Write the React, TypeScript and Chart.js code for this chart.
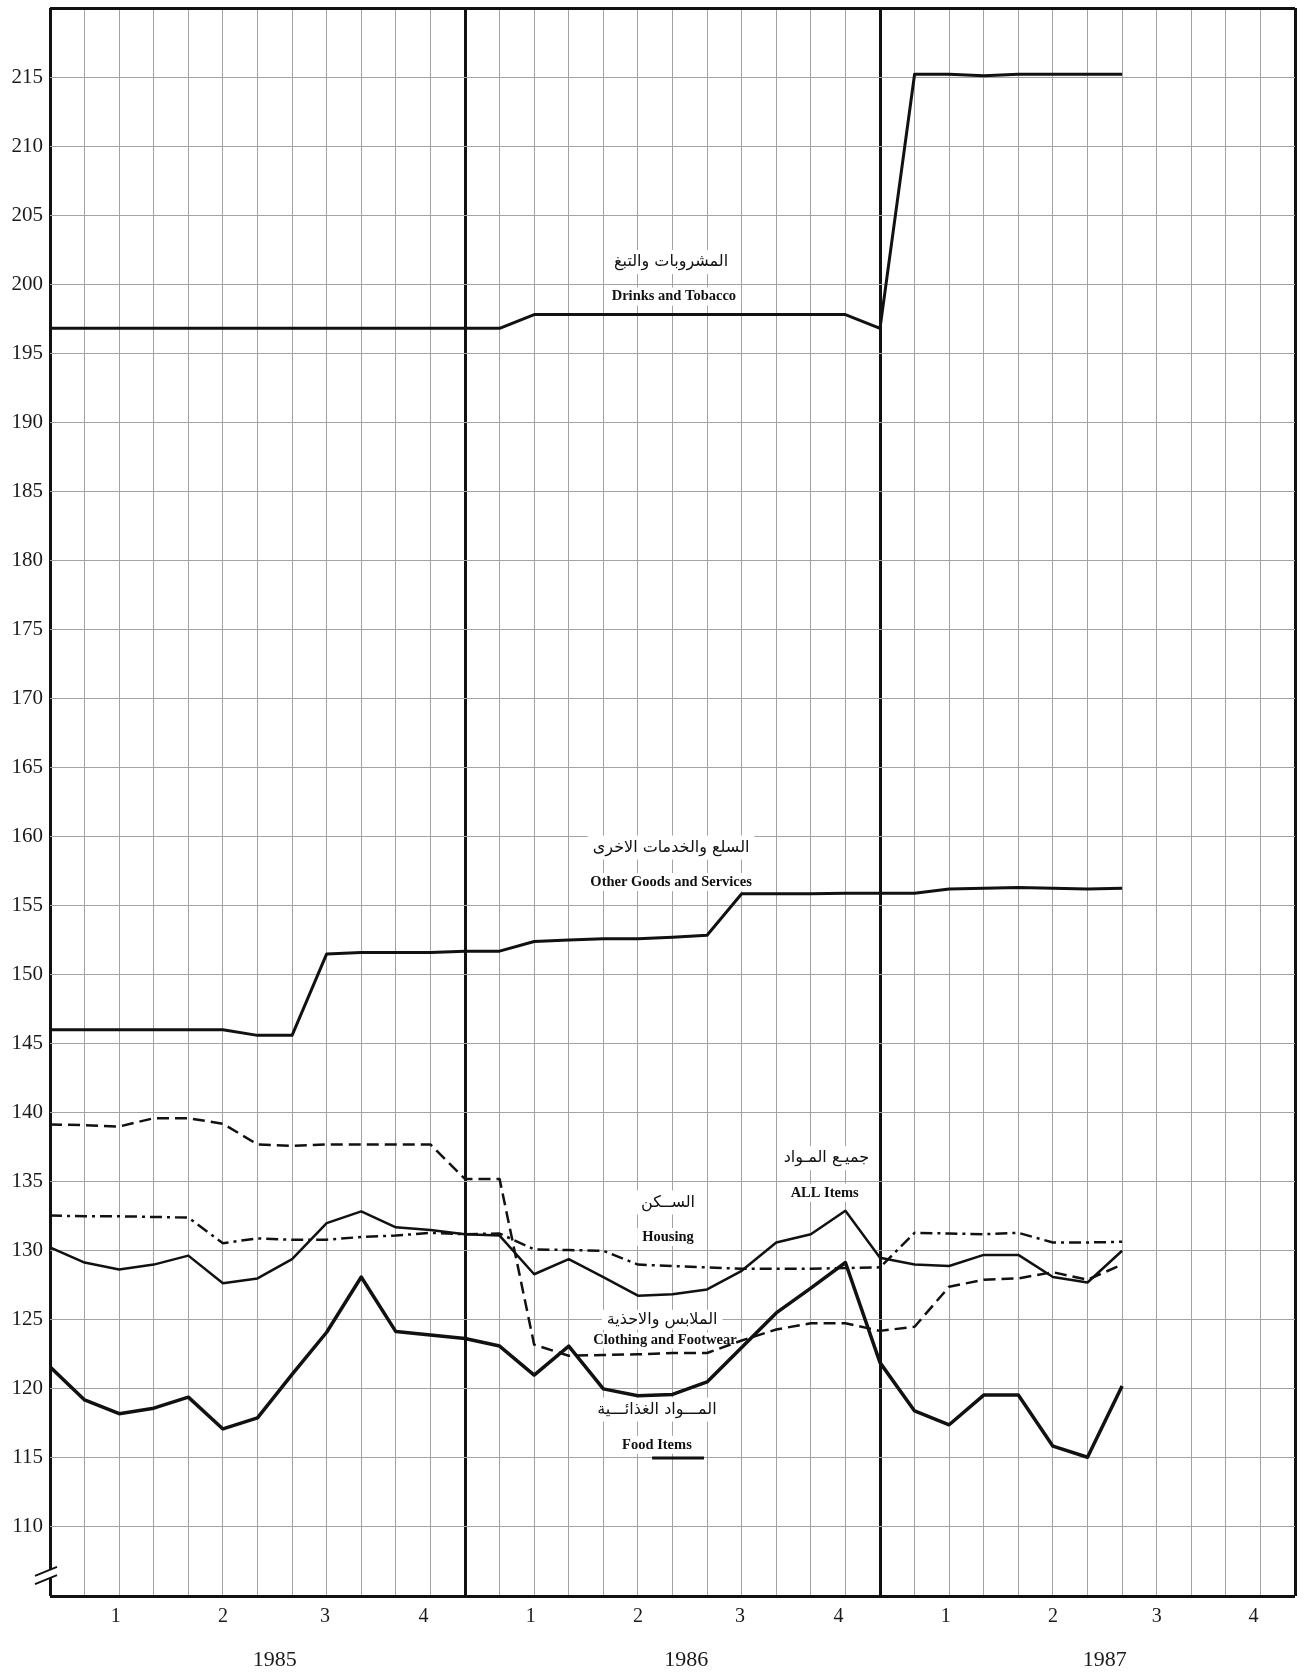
import React, { useEffect, useRef } from 'react';
import { Chart, registerables } from 'chart.js';

Chart.register(...registerables);

// Month positions (0 = first month of 1985 grid line)
const MONTHS = [0, 1, 2, 3, 4, 5, 6, 7, 8, 9, 10, 11, 12, 13, 14, 15, 16, 17, 18, 19, 20, 21, 22, 23, 24, 25, 26, 27, 28, 29, 30, 31];
const GRID_MONTHS = [0, 1, 2, 3, 4, 5, 6, 7, 8, 9, 10, 11, 12, 13, 14, 15, 16, 17, 18, 19, 20, 21, 22, 23, 24, 25, 26, 27, 28, 29, 30, 31, 32, 33, 34, 35, 36];
const YEAR_BOUNDARIES = [0, 12, 24, 36];
const Y_TICKS = [105, 110, 115, 120, 125, 130, 135, 140, 145, 150, 155, 160, 165, 170, 175, 180, 185, 190, 195, 200, 205, 210, 215, 220];
const Y_BOUNDS = [105, 220];

const QUARTER_POS = [1.9, 5.0, 7.95, 10.8, 13.9, 17.0, 19.95, 22.8, 25.9, 29.0, 32.0, 34.8];
const QUARTER_LABELS = ['1', '2', '3', '4', '1', '2', '3', '4', '1', '2', '3', '4'];
const YEAR_POS = [6.5, 18.4, 30.5];
const YEAR_LABELS = ['1985', '1986', '1987'];

const DRINKS = [196.8, 196.8, 196.8, 196.8, 196.8, 196.8, 196.8, 196.8, 196.8, 196.8, 196.8, 196.8, 196.8, 196.8, 197.8, 197.8, 197.8, 197.8, 197.8, 197.8, 197.8, 197.8, 197.8, 197.8, 196.8, 215.2, 215.2, 215.1, 215.2, 215.2, 215.2, 215.2];
const OTHER = [146.0, 146.0, 146.0, 146.0, 146.0, 146.0, 145.6, 145.6, 151.5, 151.6, 151.6, 151.6, 151.7, 151.7, 152.4, 152.5, 152.6, 152.6, 152.7, 152.85, 155.85, 155.85, 155.85, 155.9, 155.9, 155.9, 156.2, 156.25, 156.3, 156.25, 156.2, 156.25];
const CLOTHING = [139.15, 139.1, 139.0, 139.6, 139.6, 139.2, 137.7, 137.6, 137.7, 137.7, 137.7, 137.7, 135.2, 135.2, 123.2, 122.4, 122.45, 122.5, 122.6, 122.6, 123.5, 124.3, 124.75, 124.75, 124.2, 124.5, 127.4, 127.9, 128.0, 128.45, 127.9, 129.0];
const HOUSING = [132.55, 132.5, 132.5, 132.45, 132.4, 130.55, 130.9, 130.8, 130.8, 131.0, 131.1, 131.3, 131.2, 131.25, 130.1, 130.05, 130.0, 129.0, 128.9, 128.8, 128.7, 128.7, 128.7, 128.75, 128.8, 131.3, 131.25, 131.2, 131.3, 130.6, 130.6, 130.65];
const ALL_ITEMS = [130.25, 129.15, 128.65, 129.0, 129.65, 127.65, 128.0, 129.4, 132.0, 132.85, 131.7, 131.5, 131.2, 131.1, 128.3, 129.4, 128.1, 126.75, 126.85, 127.2, 128.55, 130.6, 131.2, 132.9, 129.5, 129.0, 128.9, 129.7, 129.7, 128.1, 127.7, 130.0];
const FOOD = [121.6, 119.2, 118.2, 118.6, 119.4, 117.1, 117.9, 121.05, 124.1, 128.1, 124.15, 123.9, 123.65, 123.1, 121.0, 123.1, 120.0, 119.5, 119.6, 120.5, 123.0, 125.5, 127.3, 129.15, 121.9, 118.4, 117.4, 119.55, 119.55, 115.85, 115.05, 120.2];

const AR_FONT = '16px "DejaVu Sans", sans-serif';
const EN_FONT = 'bold 14.5px "Liberation Serif", serif';

const ANNOTATIONS = [
  { text: 'المشروبات والتبغ', x: 17.96, y: 201.6, font: AR_FONT, h: 24 },
  { text: 'Drinks and Tobacco', x: 18.04, y: 199.1, font: EN_FONT, h: 18 },
  { text: 'السلع والخدمات الاخرى', x: 17.96, y: 159.2, font: AR_FONT, h: 24 },
  { text: 'Other Goods and Services', x: 17.96, y: 156.7, font: EN_FONT, h: 18 },
  { text: 'الســكن', x: 17.87, y: 133.5, font: AR_FONT, h: 24 },
  { text: 'Housing', x: 17.87, y: 131.0, font: EN_FONT, h: 18 },
  { text: 'جميـع المـواد', x: 22.45, y: 136.7, font: AR_FONT, h: 24 },
  { text: 'ALL Items', x: 22.4, y: 134.2, font: EN_FONT, h: 18 },
  { text: 'الملابس والاحذية', x: 17.7, y: 125.0, font: AR_FONT, h: 20 },
  { text: 'Clothing and Footwear', x: 17.78, y: 123.5, font: EN_FONT, h: 16 },
  { text: 'المـــواد الغذائـــية', x: 17.55, y: 118.5, font: AR_FONT, h: 24 },
  { text: 'Food Items', x: 17.55, y: 115.95, font: EN_FONT, h: 18 },
];
const FOOD_KEY = { x1: 17.41, x2: 18.91, y: 115.0 };
const BREAK_VALUES = [106.75, 106.15];

const labelPlugin = {
  id: 'seriesLabels',
  beforeDatasetsDraw(chart: any) {
    const { ctx } = chart;
    const xs = chart.scales.x;
    const ys = chart.scales.y;
    ctx.save();
    ctx.textAlign = 'center';
    ctx.textBaseline = 'middle';
    for (const a of ANNOTATIONS) {
      const px = xs.getPixelForValue(a.x);
      const py = ys.getPixelForValue(a.y);
      ctx.font = a.font;
      const w = ctx.measureText(a.text).width;
      ctx.fillStyle = '#ffffff';
      ctx.fillRect(px - w / 2 - 5, py - a.h / 2, w + 10, a.h);
    }
    for (const a of ANNOTATIONS) {
      const px = xs.getPixelForValue(a.x);
      const py = ys.getPixelForValue(a.y);
      ctx.font = a.font;
      ctx.fillStyle = '#111111';
      ctx.fillText(a.text, px, py);
    }
    ctx.strokeStyle = '#111111';
    ctx.lineWidth = 3;
    ctx.beginPath();
    ctx.moveTo(xs.getPixelForValue(FOOD_KEY.x1), ys.getPixelForValue(FOOD_KEY.y));
    ctx.lineTo(xs.getPixelForValue(FOOD_KEY.x2), ys.getPixelForValue(FOOD_KEY.y));
    ctx.stroke();
    ctx.restore();
  },
  afterDraw(chart: any) {
    const { ctx, chartArea } = chart;
    const ys = chart.scales.y;
    const l = chartArea.left;
    const y1 = ys.getPixelForValue(BREAK_VALUES[0]);
    const y2 = ys.getPixelForValue(BREAK_VALUES[1]);
    ctx.save();
    ctx.fillStyle = '#ffffff';
    ctx.beginPath();
    ctx.moveTo(l - 15, y1 + 4);
    ctx.lineTo(l + 7, y1 - 5);
    ctx.lineTo(l + 7, y2 - 5);
    ctx.lineTo(l - 15, y2 + 4);
    ctx.closePath();
    ctx.fill();
    ctx.strokeStyle = '#111111';
    ctx.lineWidth = 2;
    ctx.beginPath();
    ctx.moveTo(l - 15, y1 + 4);
    ctx.lineTo(l + 7, y1 - 5);
    ctx.moveTo(l - 15, y2 + 4);
    ctx.lineTo(l + 7, y2 - 5);
    ctx.stroke();
    ctx.restore();
  },
};

export default function App() {
  const ref = useRef<HTMLCanvasElement | null>(null);

  useEffect(() => {
    document.body.style.margin = '0';
    const canvas = ref.current;
    if (!canvas) return;
    const line = (label: string, data: number[], width: number, dash: number[]) => ({
      label,
      data,
      borderColor: '#111111',
      backgroundColor: '#111111',
      borderWidth: width,
      borderDash: dash,
      borderJoinStyle: 'round' as const,
      borderCapStyle: 'butt' as const,
      pointRadius: 0,
      tension: 0,
      fill: false,
      xAxisID: 'x',
      yAxisID: 'y',
    });

    const chart = new Chart(canvas, {
      type: 'line',
      data: {
        labels: MONTHS,
        datasets: [
          line('Drinks and Tobacco', DRINKS, 3, []),
          line('Other Goods and Services', OTHER, 3, []),
          line('Clothing and Footwear', CLOTHING, 2.5, [12, 6]),
          line('Housing', HOUSING, 2.5, [12, 5, 3, 5]),
          line('ALL Items', ALL_ITEMS, 2.5, []),
          line('Food Items', FOOD, 3.5, []),
        ],
      },
      options: {
        responsive: false,
        animation: false,
        devicePixelRatio: 1,
        layout: { padding: { top: 8, right: 11, left: 0, bottom: 0 } },
        plugins: {
          legend: { display: false },
          tooltip: { enabled: false },
        },
        scales: {
          x: {
            type: 'linear',
            position: 'bottom',
            min: 0,
            max: 36,
            weight: 0,
            afterBuildTicks: (s: any) => {
              s.ticks = GRID_MONTHS.map((v) => ({ value: v }));
            },
            afterFit: (s: any) => {
              s.height = 0;
              s.paddingLeft = 0;
              s.paddingRight = 0;
            },
            ticks: { display: false, autoSkip: false },
            border: { display: false },
            grid: {
              drawTicks: false,
              color: (c: any) => (c.tick && YEAR_BOUNDARIES.includes(c.tick.value) ? '#111111' : '#a3a3a3'),
              lineWidth: (c: any) => (c.tick && YEAR_BOUNDARIES.includes(c.tick.value) ? 3 : 1),
            },
          },
          xq: {
            type: 'linear',
            position: 'bottom',
            min: 0,
            max: 36,
            weight: 1,
            afterBuildTicks: (s: any) => {
              s.ticks = QUARTER_POS.map((v) => ({ value: v }));
            },
            afterFit: (s: any) => {
              s.height = 44;
              s.paddingLeft = 0;
              s.paddingRight = 0;
            },
            ticks: {
              autoSkip: false,
              maxRotation: 0,
              padding: 9,
              color: '#1a1a1a',
              font: { family: '"Liberation Serif", serif', size: 20 },
              callback: (v: any) => {
                const i = QUARTER_POS.indexOf(Number(v));
                return i >= 0 ? QUARTER_LABELS[i] : '';
              },
            },
            border: { display: false },
            grid: { display: false, drawTicks: false },
          },
          xy: {
            type: 'linear',
            position: 'bottom',
            min: 0,
            max: 36,
            weight: 2,
            afterBuildTicks: (s: any) => {
              s.ticks = YEAR_POS.map((v) => ({ value: v }));
            },
            afterFit: (s: any) => {
              s.height = 37;
              s.paddingLeft = 0;
              s.paddingRight = 0;
            },
            ticks: {
              autoSkip: false,
              maxRotation: 0,
              padding: 7,
              color: '#1a1a1a',
              font: { family: '"Liberation Serif", serif', size: 22 },
              callback: (v: any) => {
                const i = YEAR_POS.indexOf(Number(v));
                return i >= 0 ? YEAR_LABELS[i] : '';
              },
            },
            border: { display: false },
            grid: { display: false, drawTicks: false },
          },
          y: {
            type: 'linear',
            position: 'left',
            min: 105,
            max: 220,
            afterBuildTicks: (s: any) => {
              s.ticks = Y_TICKS.map((v) => ({ value: v }));
            },
            afterFit: (s: any) => {
              s.width = 50;
              s.paddingTop = 0;
              s.paddingBottom = 0;
            },
            ticks: {
              autoSkip: false,
              padding: 7,
              color: '#1a1a1a',
              font: { family: '"Liberation Serif", serif', size: 21 },
              callback: (v: any) => (Y_BOUNDS.includes(Number(v)) ? '' : String(v)),
            },
            border: { display: false },
            grid: {
              drawTicks: false,
              color: (c: any) => (c.tick && Y_BOUNDS.includes(c.tick.value) ? '#111111' : '#a3a3a3'),
              lineWidth: (c: any) => (c.tick && Y_BOUNDS.includes(c.tick.value) ? 3 : 1),
            },
          },
        },
      },
      plugins: [labelPlugin],
    } as any);

    return () => {
      chart.destroy();
    };
  }, []);

  return (
    <div style={{ width: 1306, height: 1677, background: '#ffffff' }}>
      <canvas ref={ref} width={1306} height={1677} style={{ display: 'block', width: 1306, height: 1677 }} />
    </div>
  );
}
